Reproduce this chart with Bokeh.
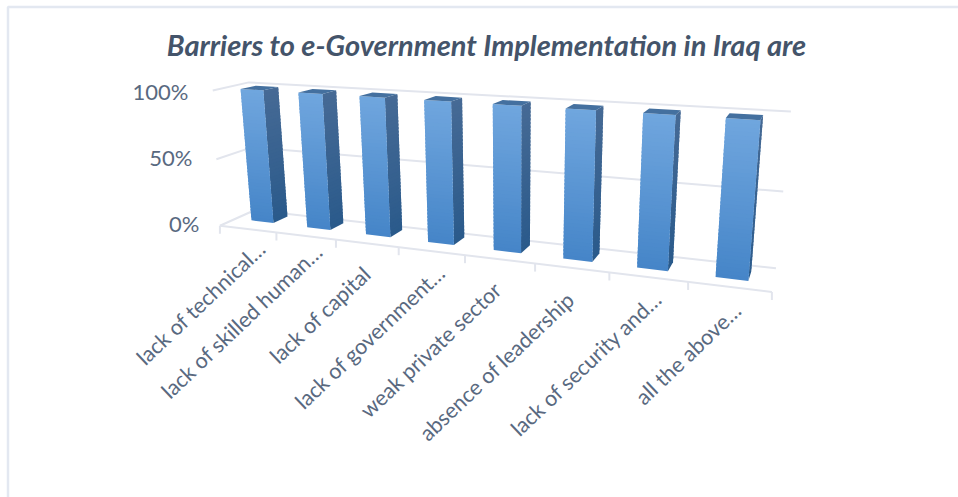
import numpy as np
from bokeh.plotting import figure
from bokeh.models import Range1d
from bokeh.core.properties import value
from bokeh.embed import file_html
from bokeh.resources import INLINE

title_text = "Barriers to e-Government Implementation in Iraq are"
categories = ["lack of technical…", "lack of skilled human…", "lack of capital",
              "lack of government…", "weak private sector", "absence of leadership",
              "lack of security and…", "all the above…"]
values = [0.99, 0.99, 0.99, 0.99, 0.99, 0.99, 0.99, 0.99]
y_ticks = [0.0, 0.5, 1.0]
y_tick_labels = ["0%", "50%", "100%"]

W, H = 958, 497


def camera(ref):
    A = []
    for (u, v, d), (x, y) in ref:
        A.append([u, v, d, 1, 0, 0, 0, 0, -x*u, -x*v, -x*d, -x])
        A.append([0, 0, 0, 0, u, v, d, 1, -y*u, -y*v, -y*d, -y])
    return np.linalg.svd(np.array(A, float))[2][-1].reshape(3, 4)


# camera of the chart box (walls and floor)
BOX = camera([((0,0,0),(222,223)),((1,0,0),(277.7,231.7)),((2,0,0),(336.7,239)),((3,0,0),(398.3,246.7)),
              ((4,0,0),(463.3,255)),((5,0,0),(534,264)),((6,0,0),(609,273.3)),((7,0,0),(686.7,282.7)),
              ((8,0,0),(772,291.7)),((0,0,1),(250,212)),((8,0,1),(776,265)),((0,1,1),(252,82)),
              ((8,1,1),(790,112)),((0,1,0),(209,90)),((0,.5,0),(215,158)),((8,.5,1),(783,190))])

# camera of the columns: d=0 is a column's front face, d=1 its back face
BL, BR = 0.31, 0.71
TOP = 0.99
def fl(i, v): return (i+BL, v, 0)
def fr(i, v): return (i+BR, v, 0)
def br(i, v): return (i+BR, v, 1)
def bl(i, v): return (i+BL, v, 1)
BAR = camera([
    (fl(0,0),(250.7,220)),(fr(0,0),(273.3,222.7)),(br(0,0),(287,215)),(fl(0,TOP),(240,89.3)),(fr(0,TOP),(262.7,89.3)),(br(0,TOP),(278,87)),(bl(0,TOP),(253,86)),
    (fl(1,0),(306.7,226.7)),(fr(1,0),(330,229.3)),(br(1,0),(343.3,220.7)),(fl(1,TOP),(297.7,92.7)),(fr(1,TOP),(322.7,93.3)),(br(1,TOP),(336.7,90)),
    (fl(2,0),(365,234)),(fr(2,0),(390,236.7)),(br(2,0),(402.3,230)),(fl(2,TOP),(359,96)),(fr(2,TOP),(385,96.7)),(br(2,TOP),(397.3,93.3)),
    (fl(3,0),(427.3,241.7)),(fr(3,0),(453.3,244.3)),(fl(3,TOP),(423.3,100)),(fr(3,TOP),(450.7,100.7)),
    (fl(4,0),(492.7,250)),(fr(4,0),(521,252.7)),(br(4,0),(529.3,244)),(fl(4,TOP),(492.3,103.3)),(fr(4,TOP),(521,104)),(br(4,TOP),(530,101.7)),
    (fl(5,0),(562.3,258.3)),(fr(5,0),(592.3,261.7)),(br(5,0),(598.3,253.3)),(fl(5,TOP),(565.3,108.3)),(fr(5,TOP),(596,109.3)),(br(5,TOP),(602.7,105)),
    (fl(6,0),(636.7,267.3)),(fr(6,0),(667.3,270.7)),(br(6,0),(672.3,262.7)),(fl(6,TOP),(643.3,112.7)),(fr(6,TOP),(675,113.3)),(br(6,TOP),(680,110)),
    (fl(7,0),(715,276.7)),(fr(7,0),(748.3,281)),(fl(7,TOP),(726,117.3)),(fr(7,TOP),(757.3,119.3)),(bl(7,TOP),(730,112.7)),(br(7,TOP),(762.7,115)),
])


def proj(u, v, d, cam=BOX):
    h = cam @ np.array([u, v, d, 1.0])
    return h[0]/h[2], h[1]/h[2]


def quad(*pts):
    c = [proj(*q, cam=BAR) for q in pts]
    return [a for a, _ in c], [b for _, b in c]


def lerp_hex(a, b, t):
    ca = [int(a[i:i+2], 16) for i in (1, 3, 5)]
    cb = [int(b[i:i+2], 16) for i in (1, 3, 5)]
    return "#%02x%02x%02x" % tuple(round(x+(y-x)*t) for x, y in zip(ca, cb))


p = figure(width=W, height=H, output_backend="svg", toolbar_location=None,
           x_range=Range1d(0, W), y_range=Range1d(H, 0), min_border=0,
           x_axis_type=None, y_axis_type=None, outline_line_color=None)
p.grid.visible = False
p.background_fill_color = "white"
p.border_fill_color = "white"

FRAME = "#e3e8f1"
GRID = "#e2e5ed"
p.line([7.5, 7.5, W], [H, 6.5, 6.5], line_color=FRAME, line_width=2.5)

for t in y_ticks:
    xs, ys = zip(*[proj(0, t, 0), proj(0, t, 1), proj(8, t, 1)])
    p.line(list(xs), list(ys), line_color=GRID, line_width=2)
xs, ys = zip(*[proj(0, 0, 0), proj(8, 0, 0)])
p.line(list(xs), list(ys), line_color=GRID, line_width=2)
for i in range(9):
    x0, y0 = proj(i, 0, 0)
    p.line([x0, x0], [y0, y0+8], line_color=GRID, line_width=2)

STR = 40
for i in range(len(values)-1, -1, -1):
    val = values[i]
    u0, u1 = i+BL, i+BR
    xs, ys, cs = [], [], []
    for k in range(STR):
        a, b = val*k/STR, val*min(k+1.6, STR)/STR
        t = (k+.5)/STR
        qx, qy = quad((u1, a, 0), (u1, a, 1), (u1, b, 1), (u1, b, 0))
        xs.append(qx); ys.append(qy); cs.append(lerp_hex("#2a5a8b", "#466a95", t))
    for k in range(STR):
        a, b = val*k/STR, val*min(k+1.6, STR)/STR
        t = (k+.5)/STR
        qx, qy = quad((u0, a, 0), (u1, a, 0), (u1, b, 0), (u0, b, 0))
        xs.append(qx); ys.append(qy); cs.append(lerp_hex("#4585c8", "#70a6de", t))
    p.patches(xs, ys, fill_color=cs, line_color=None)
    qx, qy = quad((u0, val, 0), (u1, val, 0), (u1, val, 1), (u0, val, 1))
    p.patch(qx, qy, fill_color="#44709f", line_color=None)

TXT = "#596980"
p.text([486], [44], text=[title_text], text_font=value("Lato"), text_font_style="bold italic",
       text_font_size="29px", text_color="#44546a", text_align="center", text_baseline="middle")
tick_rx = [199, 192, 188]
tick_y = [223, 157, 91]
p.text(tick_rx, tick_y, text=y_tick_labels, text_font=value("Lato"), text_font_size="22px", text_color=TXT,
       text_align="right", text_baseline="middle")
lab_dx = [14, 13, 0, 10, -2, -1, 10, 8]
lab_dy = [16, 12, 27, 18, 27, 28, 18, 20]
lx, ly = [], []
for i in range(len(categories)):
    a, b = proj(i+.5, 0, 0)
    lx.append(a+lab_dx[i]); ly.append(b+lab_dy[i])
p.text(lx, ly, text=categories, angle=np.deg2rad(43.5), text_font=value("Lato"), text_font_size="21.5px",
       text_color=TXT, text_align="right", text_baseline="middle")

open("out.html", "w").write(file_html(p, INLINE))
